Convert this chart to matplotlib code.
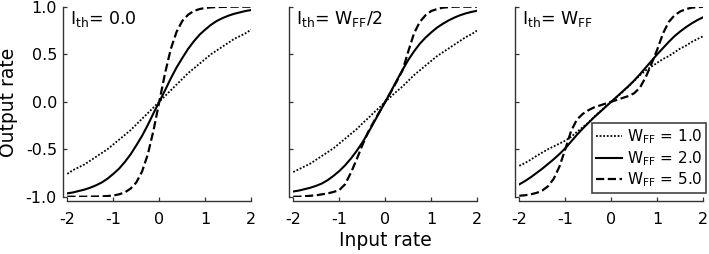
import matplotlib
matplotlib.use("Agg")
import matplotlib.pyplot as plt

plt.rcParams["font.family"] = ["DejaVu Sans"]
plt.rcParams["axes.unicode_minus"] = False
plt.rcParams["mathtext.default"] = "regular"

# ── data ─────────────────────────────────────────────────────────────────────
x_in = [-2.0, -1.875, -1.75, -1.625, -1.5, -1.375, -1.25, -1.125, -1.0,
        -0.875, -0.75, -0.625, -0.5, -0.375, -0.25, -0.125, 0.0,
        0.125, 0.25, 0.375, 0.5, 0.625, 0.75, 0.875, 1.0,
        1.125, 1.25, 1.375, 1.5, 1.625, 1.75, 1.875, 2.0]

# panel 1: I_th = 0.0
p1_wff1 = [-0.76, -0.72, -0.69, -0.66, -0.62, -0.58, -0.54, -0.50, -0.45,
           -0.40, -0.35, -0.30, -0.24, -0.18, -0.12, -0.06, 0.0,
           0.06, 0.12, 0.18, 0.24, 0.30, 0.35, 0.40, 0.45,
           0.50, 0.54, 0.58, 0.62, 0.66, 0.69, 0.72, 0.76]
p1_wff2 = [-0.965, -0.955, -0.94, -0.925, -0.905, -0.88, -0.85, -0.81, -0.76,
           -0.705, -0.635, -0.555, -0.46, -0.36, -0.245, -0.12, 0.0,
           0.12, 0.245, 0.36, 0.46, 0.555, 0.635, 0.705, 0.76,
           0.81, 0.85, 0.88, 0.905, 0.925, 0.94, 0.955, 0.965]
p1_wff5 = [-1.0, -1.0, -1.0, -1.0, -0.999, -0.998, -0.996, -0.993, -0.987,
           -0.975, -0.955, -0.915, -0.85, -0.735, -0.555, -0.30, 0.0,
           0.30, 0.555, 0.735, 0.85, 0.915, 0.955, 0.975, 0.987,
           0.993, 0.996, 0.998, 0.999, 1.0, 1.0, 1.0, 1.0]

# panel 2: I_th = W_FF/2
p2_wff1 = [-0.74, -0.71, -0.68, -0.65, -0.61, -0.57, -0.53, -0.49, -0.44,
           -0.39, -0.34, -0.29, -0.23, -0.175, -0.115, -0.06, 0.0,
           0.055, 0.11, 0.16, 0.22, 0.28, 0.33, 0.38, 0.43,
           0.48, 0.52, 0.56, 0.60, 0.64, 0.68, 0.71, 0.75]
p2_wff2 = [-0.945, -0.935, -0.92, -0.905, -0.885, -0.86, -0.825, -0.78, -0.73,
           -0.67, -0.60, -0.52, -0.43, -0.33, -0.22, -0.11, 0.0,
           0.11, 0.225, 0.335, 0.44, 0.53, 0.61, 0.675, 0.73,
           0.78, 0.82, 0.855, 0.885, 0.91, 0.93, 0.945, 0.958]
p2_wff5 = [-1.0, -1.0, -0.995, -0.99, -0.985, -0.975, -0.965, -0.95, -0.93,
           -0.87, -0.75, -0.61, -0.46, -0.32, -0.21, -0.105, 0.0,
           0.105, 0.215, 0.33, 0.53, 0.72, 0.84, 0.91, 0.955,
           0.975, 0.99, 0.995, 1.0, 1.0, 1.0, 1.0, 1.0]

# panel 3: I_th = W_FF
p3_wff1 = [-0.675, -0.645, -0.61, -0.57, -0.535, -0.50, -0.47, -0.44, -0.41,
           -0.37, -0.32, -0.27, -0.22, -0.16, -0.105, -0.05, 0.0,
           0.05, 0.105, 0.16, 0.22, 0.28, 0.33, 0.37, 0.41,
           0.45, 0.48, 0.52, 0.56, 0.59, 0.63, 0.66, 0.69]
p3_wff2 = [-0.87, -0.835, -0.795, -0.75, -0.705, -0.655, -0.605, -0.55, -0.49,
           -0.42, -0.35, -0.285, -0.225, -0.165, -0.11, -0.055, 0.0,
           0.055, 0.11, 0.165, 0.225, 0.29, 0.36, 0.43, 0.50,
           0.565, 0.63, 0.69, 0.74, 0.785, 0.825, 0.86, 0.89]
p3_wff5 = [-0.99, -0.985, -0.975, -0.96, -0.935, -0.89, -0.81, -0.68, -0.50,
           -0.31, -0.19, -0.13, -0.09, -0.06, -0.04, -0.02, 0.0,
           0.02, 0.04, 0.06, 0.09, 0.15, 0.26, 0.40, 0.55,
           0.72, 0.84, 0.91, 0.95, 0.975, 0.99, 0.995, 1.0]

panel_titles = [r"$I_{th}$= 0.0", r"$I_{th}$= $W_{FF}$/2", r"$I_{th}$= $W_{FF}$"]
legend_labels = [r"$W_{FF}$ = 1.0", r"$W_{FF}$ = 2.0", r"$W_{FF}$ = 5.0"]
x_ticks = [-2, -1, 0, 1, 2]
y_ticks = [-1.0, -0.5, 0.0, 0.5, 1.0]

panels = [
    (p1_wff1, p1_wff2, p1_wff5),
    (p2_wff1, p2_wff2, p2_wff5),
    (p3_wff1, p3_wff2, p3_wff5),
]
styles = [
    dict(linestyle=(0, (1, 1)), linewidth=1.3),
    dict(linestyle="-", linewidth=1.5),
    dict(linestyle="--", linewidth=1.6),
]

# ── figure ──────────────────────────────────────────────────────────────────
W, H = 709, 254
fig = plt.figure(figsize=(W / 100, H / 100), dpi=100, facecolor="white")

lefts = [67.3, 293.3, 519.3]
ax_w, ax_h = 184, 190
ax_bottom = H - 196.7

for i, left in enumerate(lefts):
    ax = fig.add_axes([left / W, ax_bottom / H, ax_w / W, ax_h / H])
    lines = []
    for ys, st in zip(panels[i], styles):
        ln, = ax.plot(x_in, ys, color="black", **st)
        lines.append(ln)

    ax.set_xlim(-2, 2)
    ax.set_ylim(-1, 1)
    ax.set_xticks(x_ticks)
    ax.set_yticks(y_ticks)
    ax.set_xticklabels([str(t) for t in x_ticks])
    if i == 0:
        ax.set_yticklabels([f"{t:.1f}" for t in y_ticks])
    else:
        ax.set_yticklabels([])

    for side in ["top", "right"]:
        ax.spines[side].set_visible(False)
    for side in ["left", "bottom"]:
        ax.spines[side].set_position(("outward", 3))
        ax.spines[side].set_color("#333333")
        ax.spines[side].set_linewidth(1.0)
    ax.tick_params(axis="both", direction="in", length=3, width=0.9,
                   color="#333333", labelsize=11.5)
    ax.tick_params(axis="x", pad=8)
    ax.tick_params(axis="y", pad=4.5)
    ax.set_facecolor("white")

    ax.text(0.015, 0.99, panel_titles[i], transform=ax.transAxes,
            ha="left", va="top", fontsize=12.5)

    if i == 2:
        leg = ax.legend(lines, legend_labels, loc="lower right",
                        bbox_to_anchor=(706.3 / W, (H - 193.3) / H),
                        bbox_transform=fig.transFigure, borderaxespad=0,
                        fontsize=11, frameon=True, fancybox=False,
                        edgecolor="#444444", framealpha=1,
                        handlelength=1.7, handletextpad=0.35,
                        labelspacing=0.2, borderpad=0.25)
        leg.get_frame().set_linewidth(1.2)

# ── shared axis labels ──────────────────────────────────────────────────────
fig.text(9 / W, (H - 102.7) / H, "Output rate", rotation=90,
         ha="center", va="center", fontsize=13.5)
fig.text(385.3 / W, 8 / H, "Input rate", ha="center", va="baseline",
         fontsize=13.5)

fig.savefig("out.png", dpi=100, facecolor="white")
